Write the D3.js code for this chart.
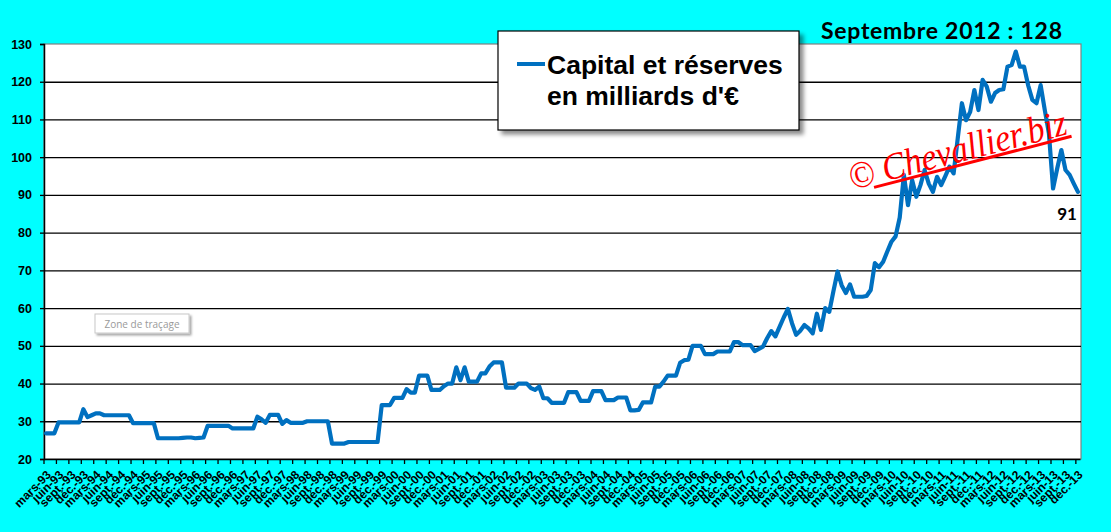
<!DOCTYPE html>
<html>
<head>
<meta charset="utf-8">
<script src="https://cdn.jsdelivr.net/npm/d3@7/dist/d3.min.js"></script>
<style>
  html, body { margin:0; padding:0; background:#00FFFF; }
  svg { display:block; }
</style>
</head>
<body>
<script>
// ---- DATA ----
const quarterNames = ["mars", "juin", "sept.", "déc."];
const years = ["93","94","95","96","97","98","99","00","01","02","03","04","05","06","07","08","09","10","11","12","13"];
const yTicks = [20,30,40,50,60,70,80,90,100,110,120,130];
// Monthly values, mars-93 .. déc.-13 (250 months)
const capitalValues = [
  26.8,26.8,26.8,29.7,29.7,29.7,29.7,29.7,29.7,33.2,
  31.1,31.6,32.1,32.1,31.6,31.6,31.6,31.6,31.6,31.6,
  31.6,29.5,29.5,29.5,29.5,29.5,29.5,25.5,25.5,25.5,
  25.5,25.5,25.5,25.6,25.7,25.7,25.5,25.6,25.7,28.8,
  28.8,28.8,28.8,28.8,28.8,28.1,28.1,28.1,28.1,28.1,
  28.1,31.2,30.5,29.6,31.7,31.7,31.7,29.3,30.3,29.6,
  29.6,29.6,29.6,30,30,30,30,30,30,24.1,
  24.1,24.1,24.1,24.5,24.5,24.5,24.5,24.5,24.5,24.5,
  24.5,34.3,34.3,34.3,36.2,36.2,36.2,38.5,37.6,37.6,
  42.1,42.1,42.1,38.3,38.3,38.3,39.3,40,40,44.3,
  40.9,44.3,40.5,40.5,40.5,42.7,42.7,44.5,45.6,45.6,
  45.6,38.9,38.9,38.9,40,40,40,38.8,38.3,39.2,
  36.1,36.1,34.9,34.9,34.9,34.9,37.7,37.7,37.7,35.4,
  35.4,35.4,38,38,38,35.6,35.6,35.6,36.3,36.3,
  36.3,32.9,32.9,33,35,35,35,39.2,39.2,40.5,
  42.1,42.1,42.1,45.5,46.2,46.3,50,50,50,47.8,
  47.8,47.8,48.5,48.5,48.5,48.5,51,51,50.2,50.2,
  50.2,48.6,49.2,49.8,52,53.9,52.5,55,57.5,59.8,
  56,52.9,54,55.5,54.6,53.3,58.5,54.2,60,59,
  64.5,69.7,66,64,66.3,63,63,63,63.2,64.8,
  71.9,70.8,72.3,75,77.6,79,84,95.3,87.3,93.9,
  89.5,92.6,96.6,93,90.8,94.8,92.6,95,97.5,95.7,
  105,114.3,109.8,112,117.8,112.5,120.5,118.7,114.7,117,
  117.8,118,124,124.4,128,124,124,119,115.2,114.3,
  119.1,112.5,106.3,91.7,97,101.9,96.6,95.3,93,90.8
];
const legendLines = ["Capital et réserves", "en milliards d'€"];
const titleText = "Septembre 2012 : 128";
const lastLabel = "91";
const watermark = "© Chevallier.biz";

// Month categories (label every quarter: mars, juin, sept., déc.)
const monthNames = ["janv.","févr.","mars","avr.","mai","juin","juil.","août","sept.","oct.","nov.","déc."];
const categories = [];
years.forEach((yy, yi) => {
  monthNames.forEach((m, mi) => {
    if (yi === 0 && mi < 2) return;
    categories.push(m + "-" + yy);
  });
});
const cats = categories.slice(0, capitalValues.length);
const tickCats = cats.filter(c => quarterNames.includes(c.split("-")[0]));

// ---- LAYOUT ----
const W = 1111, H = 532;
const L = 44, R = 1081, T = 44, B = 459;

const svg = d3.select("body").append("svg").attr("width", W).attr("height", H);
const defs = svg.append("defs");
const f = defs.append("filter").attr("id","shadow").attr("x","-10%").attr("y","-10%").attr("width","130%").attr("height","140%");
f.append("feDropShadow").attr("dx",4).attr("dy",4).attr("stdDeviation",2).attr("flood-color","#000").attr("flood-opacity",0.45);
const f2 = defs.append("filter").attr("id","shadow2").attr("x","-10%").attr("y","-20%").attr("width","130%").attr("height","160%");
f2.append("feDropShadow").attr("dx",2).attr("dy",2).attr("stdDeviation",1).attr("flood-color","#000").attr("flood-opacity",0.35);

svg.append("rect").attr("width", W).attr("height", H).attr("fill", "#00FFFF");

const x = d3.scaleBand().domain(cats).range([L, R - 1]).padding(0);
const y = d3.scaleLinear().domain([20, 130]).range([B, T]);

// plot area
svg.append("rect").attr("x", L).attr("y", T).attr("width", R - L).attr("height", B - T)
  .attr("fill", "#fff").attr("stroke", "#808080").attr("stroke-width", 1.2);

// gridlines
const grid = svg.append("g").attr("transform", `translate(${L},0)`)
  .call(d3.axisLeft(y).tickValues(yTicks.filter(v => v > 20 && v < 130)).tickSize(-(R - L)).tickFormat(""));
grid.select(".domain").remove();
grid.selectAll("line").attr("stroke", "#000").attr("stroke-width", 1.3);

// y axis
const yAxis = svg.append("g").attr("transform", `translate(${L},0)`)
  .call(d3.axisLeft(y).tickValues(yTicks).tickSize(4).tickPadding(8));
yAxis.select(".domain").attr("stroke", "#000").attr("stroke-width", 1.5);
yAxis.selectAll("line").attr("stroke", "#000").attr("stroke-width", 1.3);
yAxis.selectAll("text").attr("font-family", "Liberation Sans, Arial, sans-serif")
  .attr("font-weight", "bold").attr("font-size", 12.5).attr("fill", "#000");

// x axis
const bw = x.bandwidth();
const xAxis = svg.append("g").attr("transform", `translate(0,${B})`)
  .call(d3.axisBottom(x).tickValues(tickCats).tickSize(5).tickSizeOuter(0));
xAxis.select(".domain").attr("stroke", "#000").attr("stroke-width", 1.5);
xAxis.selectAll(".tick line").attr("transform", `translate(${-bw / 2},0)`).attr("stroke", "#000").attr("stroke-width", 1.3);
xAxis.selectAll(".tick text")
  .attr("font-family", "Liberation Sans, Arial, sans-serif").attr("font-weight", "bold").attr("font-size", 12)
  .attr("fill", "#000")
  .attr("text-anchor", "end")
  .attr("dy", "0.35em")
  .attr("transform", "translate(-3,8) rotate(-45)");

// "Zone de traçage" tooltip
const tip = svg.append("g").attr("transform", "translate(95,314)");
tip.append("rect").attr("width", 94).attr("height", 19).attr("fill", "#fff")
  .attr("stroke", "#c8c8c8").attr("filter", "url(#shadow2)");
tip.append("text").attr("x", 47).attr("y", 13.5).attr("text-anchor", "middle")
  .attr("font-family", "Open Sans, sans-serif").attr("font-size", 10).attr("fill", "#9a9a9a").text("Zone de traçage");

// line
const line = d3.line().x((d, i) => x(cats[i]) + bw / 2).y(d => y(d)).curve(d3.curveLinear);
svg.append("path").datum(capitalValues).attr("d", line)
  .attr("fill", "none").attr("stroke", "#0070C0").attr("stroke-width", 4.2).attr("stroke-linejoin", "round").attr("stroke-linecap", "round");

// watermark
const wm = svg.append("g").attr("transform", "translate(852,190) rotate(-14.5)");
wm.append("text").attr("x", 0).attr("y", 0)
  .attr("font-family", "Liberation Serif, DejaVu Serif, serif").attr("font-style", "italic")
  .attr("font-size", 38).attr("fill", "#FF0000").attr("textLength", 224).attr("lengthAdjust", "spacingAndGlyphs")
  .text(watermark);
wm.append("line").attr("x1", 22).attr("y1", 3).attr("x2", 226).attr("y2", 3)
  .attr("stroke", "#FF0000").attr("stroke-width", 3);

// last value label
const lastIdx = capitalValues.length - 1;
svg.append("text").attr("x", x(cats[lastIdx]) + bw / 2 - 1).attr("y", 220).attr("text-anchor", "end")
  .attr("font-family", "Lato, sans-serif").attr("font-weight", "bold").attr("font-size", 17).attr("fill", "#000")
  .text(lastLabel);

// title
svg.append("text").attr("x", 821).attr("y", 39).attr("font-family", "Lato, sans-serif").attr("font-weight", "bold")
  .attr("font-size", 23).attr("fill", "#000").attr("textLength", 241).attr("lengthAdjust", "spacing").text(titleText);

// legend
const lg = svg.append("g").attr("transform", "translate(498,31)");
lg.append("rect").attr("width", 301).attr("height", 99).attr("fill", "#fff").attr("stroke", "#000")
  .attr("stroke-width", 1.2).attr("filter", "url(#shadow)");
lg.append("line").attr("x1", 19).attr("x2", 47).attr("y1", 33).attr("y2", 33)
  .attr("stroke", "#0070C0").attr("stroke-width", 4);
lg.selectAll("text.lg").data(legendLines).join("text").attr("class", "lg")
  .attr("x", 49).attr("y", (d, i) => 43 + i * 31)
  .attr("font-family", "Liberation Sans, Arial, sans-serif").attr("font-weight", "bold").attr("font-size", 26.5)
  .attr("fill", "#000").text(d => d);
</script>
</body>
</html>
